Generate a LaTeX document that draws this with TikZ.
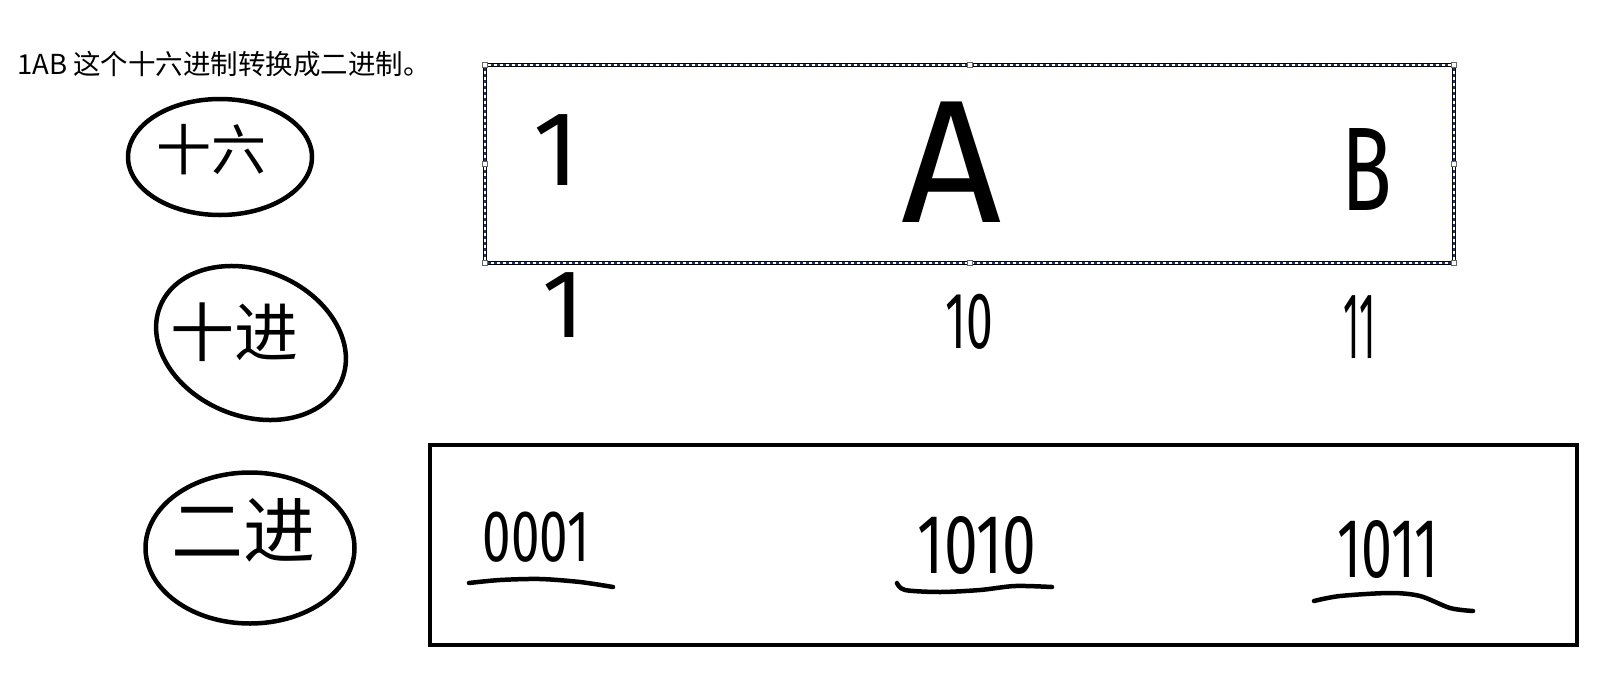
\documentclass[tikz,border=0pt]{standalone}
\usepackage{fontspec}
\usepackage{tikz}
\usetikzlibrary{shapes.geometric}
\newfontfamily\cjk{Noto Sans CJK SC}
\newfontfamily\handfont{Fira Sans}
\definecolor{selblue}{RGB}{31,56,100}
\tikzset{
  penline/.style={line width=4.5pt, line cap=round, line join=round},
  blob/.style={draw, ellipse, penline, inner sep=0pt},
  hw/.style={font=\handfont\fontsize{#1}{#1}\selectfont, inner sep=0pt},
  cjkhw/.style={font=\cjk\fontsize{#1}{#1}\selectfont, inner sep=0pt},
  handle/.style={draw=gray!80!black, fill=white, line width=0.6pt, minimum size=5pt, inner sep=0pt},
}

\begin{document}
\begin{tikzpicture}[x=1pt,y=1pt,yscale=-1,xscale=1]
\useasboundingbox (0,0) rectangle (1604,686);
%Title
\node (title) at (17,64) [anchor=west, inner sep=0pt, font=\cjk\fontsize{27.5}{27.5}\selectfont] {1AB 这个十六进制转换成二进制。};
%Blobs
\node (hexblob) at (220,157) [blob, minimum width=184, minimum height=116] {};
\node (decblob) at (251,343) [blob, rotate=-22, minimum width=196, minimum height=146] {};
\node (binblob) at (250,548) [blob, minimum width=209, minimum height=151] {};
\node (hextxt) at (211,150) [cjkhw=55] {十六};
\node (dectxt) at (234,332) [cjkhw=64] {十进};
\node (bintxt) at (243,530) [cjkhw=72] {二进};
%Top box
\node (hexbox) at (969.5,164) [draw, line width=4.5pt, outer sep=0pt, minimum width=969, minimum height=198] {};
\draw [selblue, line width=1.2pt] (hexbox.north west) rectangle (hexbox.south east);
\draw [white, line width=1.2pt, dash pattern=on 3pt off 3pt] (hexbox.north west) rectangle (hexbox.south east);
\foreach \a in {north west, north, north east, east, south east, south, south west, west}
  \node [handle] (h-\a) at (hexbox.\a) {};
\node (one) at (556,150) [hw=106] {1};
\node (digA) at (952,162) [hw=175] {A};
\node (digB) at (1367,169) [hw=119] {\scalebox{0.7}[1]{B}};
%Decimal
\node (onedec) at (563,305) [hw=97] {1};
\node (tendec) at (969,322) [hw=80] {\scalebox{0.6}[1]{10}};
\node (elevendec) at (1360,327) [hw=94] {\scalebox{0.4}[1]{11}};
%Bottom box
\node (binbox) at (1003.5,545) [draw, line width=4.5pt, outer sep=0pt, minimum width=1147, minimum height=200] {};
\node (bin1) at (536,537) [hw=73] {\scalebox{0.7}[1]{0001}};
\node (binA) at (977,545) [hw=84] {\scalebox{0.72}[1]{1010}};
\node (binB) at (1388,549) [hw=84] {\scalebox{0.66}[1]{1011}};
\draw [penline] plot [smooth] coordinates {(469,583) (500,580) (540,579) (580,582) (613,587)};
\draw [penline] plot [smooth] coordinates {(897,583) (905,590) (940,592) (980,590) (1015,586) (1052,587)};
\draw [penline] plot [smooth] coordinates {(1314,601) (1340,596) (1390,593) (1420,596) (1450,608) (1473,611)};
\end{tikzpicture}
\end{document}
